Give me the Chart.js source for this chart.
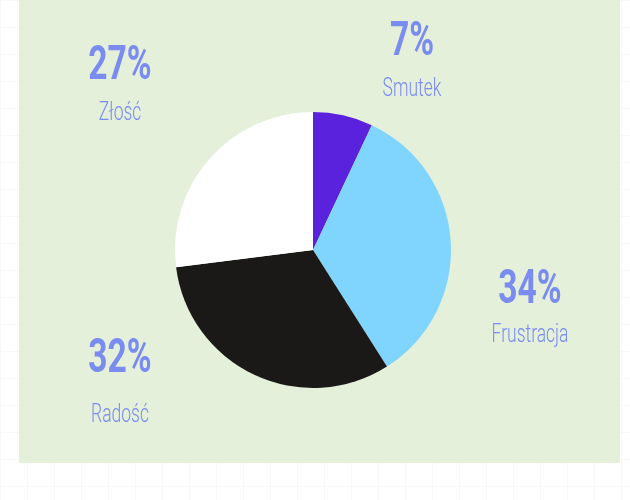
<!DOCTYPE html>
<html>
<head>
<meta charset="utf-8">
<script src="https://cdn.jsdelivr.net/npm/chart.js@4"></script>
<style>
  html, body { margin: 0; padding: 0; }
  body {
    width: 630px; height: 500px; overflow: hidden;
    background-color: #ffffff;
    background-image:
      linear-gradient(to right, #f8f8f8 1px, transparent 1px),
      linear-gradient(to bottom, #f8f8f8 1px, transparent 1px);
    background-size: 27px 27px;
  }
  #wrap { position: relative; width: 630px; height: 500px; }
</style>
</head>
<body>
<div id="wrap"><canvas id="chart" width="630" height="500"></canvas></div>
<script>
    // emotions, clockwise from 12 o'clock
    var categories = ["Smutek", "Frustracja", "Radość", "Złość"];
    var shares = [7, 34, 32, 27];
    var sliceColors = ["#5b22de", "#80d5ff", "#1a1918", "#ffffff"];

    // label blocks: centre x, baseline of the percent, baseline of the name
    var labelSpots = [
        { x: 412, pct: 55, name: 96 },
        { x: 530, pct: 303, name: 342 },
        { x: 120, pct: 372, name: 422 },
        { x: 120, pct: 79, name: 120 }
    ];

    function condensedText(ctx, text, x, y, font, squeeze) {
        ctx.save();
        ctx.font = font;
        ctx.translate(x, y);
        ctx.scale(squeeze, 1);
        ctx.fillText(text, 0, 0);
        ctx.restore();
    }

    var backdrop = {
        id: "backdrop",
        beforeDraw: function (chart) {
            var ctx = chart.ctx;
            ctx.save();
            ctx.fillStyle = "#e4f0da";
            ctx.fillRect(19, 0, 601, 463);
            ctx.restore();
        }
    };

    var bigLabels = {
        id: "bigLabels",
        afterDraw: function (chart) {
            var ctx = chart.ctx;
            var ds = chart.data.datasets[0];
            ctx.save();
            ctx.fillStyle = "#7b8cf0";
            ctx.textAlign = "center";
            ctx.textBaseline = "alphabetic";
            chart.data.labels.forEach(function (name, i) {
                var spot = labelSpots[i];
                condensedText(ctx, ds.data[i] + "%", spot.x, spot.pct, "bold 48px Roboto", 0.7);
                condensedText(ctx, name, spot.x, spot.name, "300 25px Roboto", 0.7);
            });
            ctx.restore();
        }
    };

    new Chart("chart", {
        type: "pie",
        data: {
            labels: categories,
            datasets: [{
                data: shares,
                backgroundColor: sliceColors,
                borderWidth: 0
            }]
        },
        options: {
            responsive: false,
            animation: false,
            layout: {
                padding: { top: 112, bottom: 112, left: 175, right: 179 }
            },
            plugins: {
                legend: { display: false },
                tooltip: { enabled: false }
            }
        },
        plugins: [backdrop, bigLabels]
    });
</script>
</body>
</html>
